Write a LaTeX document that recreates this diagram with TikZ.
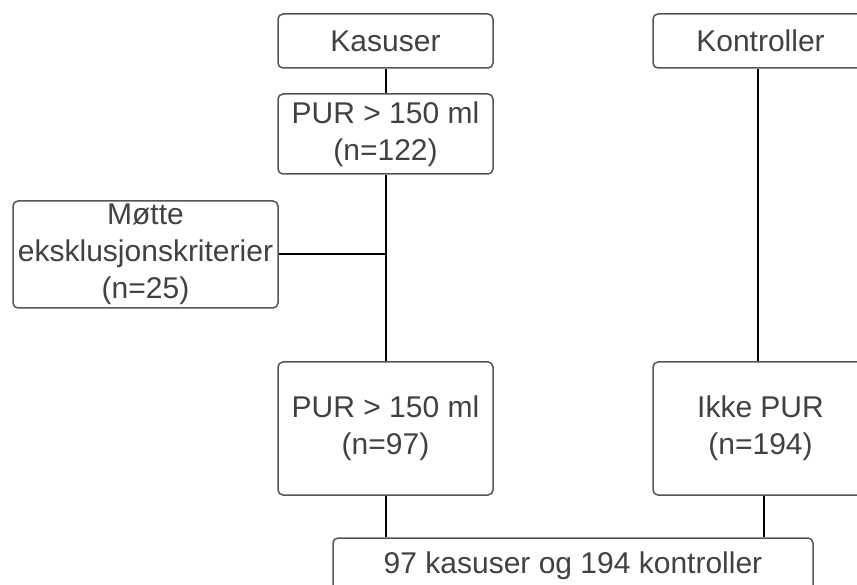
\documentclass[tikz,border=0pt]{standalone}
\usepackage{fontspec}
\setmainfont{Liberation Sans}

\tikzset{every picture/.style={line width=0.75pt}}
\tikzset{
  boks/.style={draw={rgb,255:red,85;green,85;blue,85}, line width=1.5, rounded corners=5,
    align=center, inner sep=0pt, text={rgb,255:red,65;green,65;blue,65},
    font=\fontsize{30}{37}\selectfont},
  linje/.style={line width=2, color=black}
}

\begin{document}
\begin{tikzpicture}[x=1pt,y=1pt,yscale=-1]
\useasboundingbox (0,0) rectangle (857,585);

% Text Node
\draw (385.5,41) node [boks, minimum width=215, minimum height=54] (kas) {Kasuser};
% Text Node
\draw (760.5,41) node [boks, minimum width=215, minimum height=54] (kont) {Kontroller};
% Text Node
\draw (385.5,134) node [boks, minimum width=215, minimum height=80] (pur1) {PUR > 150 ml\\(n=122)};
% Text Node
\draw (145.5,254.5) node [boks, minimum width=265, minimum height=107] (mote) {Møtte\\eksklusjonskriterier\\(n=25)};
% Text Node
\draw (385.5,428.5) node [boks, minimum width=215, minimum height=133] (pur2) {PUR > 150 ml\\(n=97)};
% Text Node
\draw (760.5,428.5) node [boks, minimum width=215, minimum height=133] (ikke) {Ikke PUR\\(n=194)};
% Text Node
\draw (573,566) node [boks, minimum width=480, minimum height=56] (alle) {97 kasuser og 194 kontroller};

%Straight Lines
\draw [linje] (kas.south) -- (pur1.north);
\draw [linje] (pur1.south) -- (pur2.north);
\draw [linje] (mote.east) -- (mote.east -| pur1.south);
\draw [linje] (pur2.south) -- (pur2.south |- alle.north);
\draw [linje] ([xshift=-2.5]kont.south) -- ([xshift=-2.5]ikke.north);
\draw [linje] ([xshift=3.5]ikke.south) -- ([xshift=3.5]ikke.south |- alle.north);

\end{tikzpicture}
\end{document}
